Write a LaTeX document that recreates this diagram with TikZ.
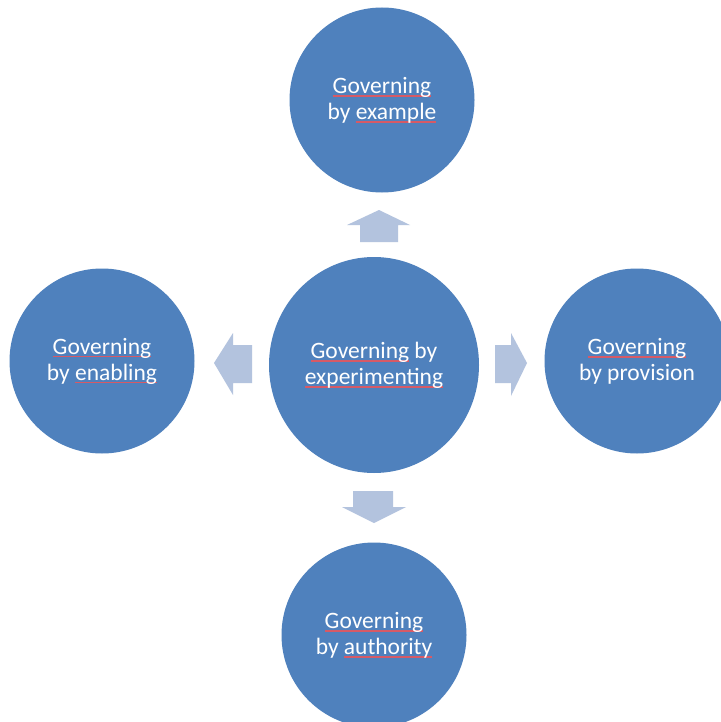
\documentclass[tikz,border=0pt]{standalone}
\usepackage{fontspec}
\setmainfont{Carlito}
\usetikzlibrary{shapes.geometric}
\definecolor{circblue}{HTML}{4F81BD}
\definecolor{arrblue}{HTML}{B3C3DE}
\definecolor{splred}{HTML}{D65A66}
\newsavebox\splbox
\newcommand\spl[1]{\sbox\splbox{#1}\rlap{\color{splred}\rule[-3.4pt]{\wd\splbox}{1.3pt}}\usebox\splbox}
\tikzset{
  circ/.style={circle, fill=circblue, draw=none, inner sep=0pt, minimum size=185pt,
    text=white, align=center, font=\fontsize{23.5}{26}\selectfont},
  blockarrow/.style={fill=arrblue, draw=none}
}
\begin{document}
\begin{tikzpicture}[x=1pt, y=-1pt]
\useasboundingbox (0,0) rectangle (720,722);
\fill[white] (0,0) rectangle (720,722);
% circles
\node[circ, ellipse, minimum width=210pt, minimum height=216pt] (center) at (374,365) {\spl{Governing} by\\\spl{experimenting}};
\node[circ] (top) at (382,100) {\spl{Governing}\\by \spl{example}};
\node[circ] (left) at (102,361) {\spl{Governing}\\by \spl{enabling}};
\node[circ] (right) at (637,361) {\spl{Governing}\\by provision};
\node[circ] (bottom) at (374,635) {\spl{Governing}\\by \spl{authority}};
% block arrows
\fill[blockarrow] (360,242) -- (360,225) -- (347,225) -- (379,210) -- (410,225) -- (398,225) -- (398,242) -- cycle;
\fill[blockarrow] (353,491) -- (393,491) -- (393,507) -- (406,507) -- (374,523) -- (342,507) -- (353,507) -- cycle;
\fill[blockarrow] (252,345) -- (233,345) -- (233,333) -- (214,363) -- (233,395) -- (233,383) -- (252,383) -- cycle;
\fill[blockarrow] (495,345) -- (511,345) -- (511,333) -- (527,363) -- (511,396) -- (511,383) -- (495,383) -- cycle;
\end{tikzpicture}
\end{document}
